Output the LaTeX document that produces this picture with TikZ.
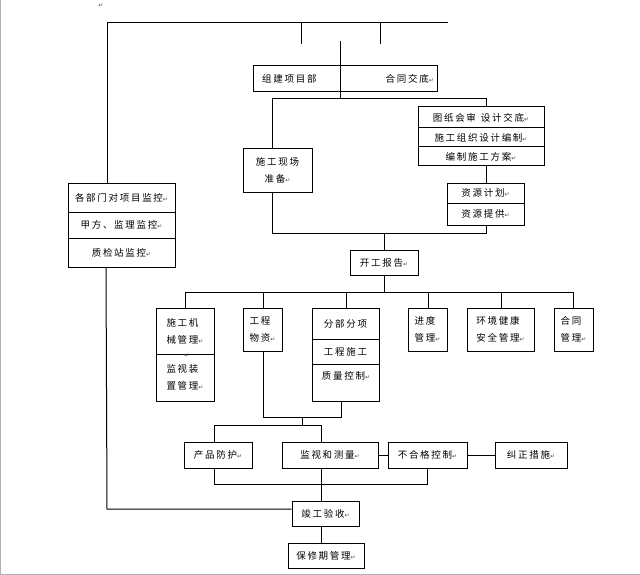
\documentclass[tikz,border=0pt]{standalone}
\usepackage{fontspec}
\newfontfamily\cjk[LetterSpace=18]{Noto Sans CJK SC}
\newfontfamily\symf{DejaVu Sans}
\newcommand\retm{{\fontsize{6}{6}\selectfont\symf\textcolor{black!70}{↵}}}
\begin{document}
\begin{tikzpicture}[x=1pt,y=-1pt,
  box/.style={draw=black,line width=1pt,rectangle,inner sep=0pt,
    font=\cjk\fontsize{9.5}{17}\selectfont,align=left},
  txt/.style={inner sep=0pt,font=\cjk\fontsize{9.5}{17}\selectfont,align=left},
  ln/.style={line width=1pt,black}]
\useasboundingbox (0,0) rectangle (640,575);
\fill[white] (0,0) rectangle (640,575);
\draw[gray!60,line width=1.2pt] (0.6,0) -- (0.6,574.4) -- (640,574.4);
\node[inner sep=0pt] (m0) at (101,6) {\retm};
% boxes
\node[box,minimum width=184,minimum height=26] (zj) at (345,79) {};
\node[txt,anchor=west] (zjl) at (262,79) {组建项目部};
\node[txt,anchor=east] (zjr) at (434,79) {合同交底\retm};
\node[box,minimum width=126,minimum height=21] (tz1) at (481,117.5) {图纸会审\hspace{5pt}设计交底\retm};
\node[box,minimum width=126,minimum height=19] (tz2) at (481,137.5) {施工组织设计编制\retm};
\node[box,minimum width=126,minimum height=19] (tz3) at (481,156.5) {编制施工方案\retm};
\node[box,minimum width=77,minimum height=20] (zy1) at (485.5,193) {资源计划\retm};
\node[box,minimum width=77,minimum height=22] (zy2) at (485.5,214) {资源提供\retm};
\node[box,minimum width=69,minimum height=43,align=center] (sg) at (277.5,170.5) {施工现场\\准备\retm};
\node[box,minimum width=107,minimum height=29] (jk1) at (121.5,197.5) {各部门对项目监控\retm};
\node[box,minimum width=107,minimum height=26] (jk2) at (121.5,225) {甲方、监理监控\retm};
\node[box,minimum width=107,minimum height=29] (jk3) at (121.5,252.5) {质检站监控\retm};
\node[box,minimum width=68,minimum height=25] (kg) at (384,262.5) {开工报告\retm};
\node[box,minimum width=58,minimum height=46] (jx1) at (185,331) {施工机\\械管理\retm};
\node[box,minimum width=58,minimum height=47] (jx2) at (185,377.5) {监视装\\置管理\retm};
\node[inner sep=0pt] (m1) at (187,355.5) {\retm};
\node[box,minimum width=39,minimum height=43] (wz) at (262.5,329.5) {工程\\物资\retm};
\node[box,minimum width=67,minimum height=31] (fb1) at (345.5,323.5) {分部分项};
\node[box,minimum width=67,minimum height=25] (fb2) at (345.5,351.5) {工程施工};
\node[box,minimum width=67,minimum height=37] (fb3) at (345.5,382.5) {};
\node[txt] (fb3t) at (346,376) {质量控制\retm};
\node[box,minimum width=39,minimum height=43] (jd) at (427.5,329.5) {进度\\管理\retm};
\node[box,minimum width=67,minimum height=43] (hj) at (500.5,329.5) {环境健康\\安全管理\retm};
\node[box,minimum width=39,minimum height=43] (ht) at (573.5,329.5) {合同\\管理\retm};
\node[box,minimum width=68,minimum height=26] (cp) at (218,455) {产品防护\retm};
\node[box,minimum width=96,minimum height=26] (jc) at (330,455) {监视和测量\retm};
\node[box,minimum width=79,minimum height=26] (bh) at (427.5,455) {不合格控制\retm};
\node[box,minimum width=72,minimum height=26] (jz) at (531,455) {纠正措施\retm};
\node[box,minimum width=67,minimum height=25] (jg) at (325.5,513.5) {竣工验收\retm};
\node[box,minimum width=76,minimum height=25] (bx) at (326,555.5) {保修期管理\retm};
% coordinates
\coordinate (tl) at (107,23);
\coordinate (tr) at (448,23);
\coordinate (t1) at (301,23);
\coordinate (t1b) at (301,44);
\coordinate (t2) at (380,23);
\coordinate (t2b) at (380,44);
\coordinate (ct) at (340,41);
\coordinate (cb) at (340,99);
\coordinate (hl) at (272,99);
\coordinate (hr) at (486,99);
\coordinate (ml) at (272,233);
\coordinate (mr) at (486,233);
\coordinate (mk) at (384,233);
\coordinate (rl) at (185,292);
\coordinate (rr) at (573,292);
\coordinate (rk) at (384,292);
\coordinate (wl) at (263,417);
\coordinate (wr) at (341,417);
\coordinate (wm) at (302,417);
\coordinate (pl) at (214,425);
\coordinate (pr) at (321,425);
\coordinate (pm) at (302,425);
\coordinate (ql) at (214,484);
\coordinate (qr) at (427,484);
\coordinate (lb) at (107,509);
% connectors
\draw[ln] (tl) -- (tr);
\draw[ln] (tl) -- (tl |- jk1.north);
\draw[ln] (t1) -- (t1b);
\draw[ln] (t2) -- (t2b);
\draw[ln] (ct) -- (cb);
\draw[ln] (hl) -- (hr) -- (hr |- tz1.north);
\draw[ln] (hl) -- (hl |- sg.north);
\draw[ln] (hr |- tz3.south) -- (hr |- zy1.north);
\draw[ln] (ml |- sg.south) -- (ml) -- (mr) -- (mr |- zy2.south);
\draw[ln] (mk) -- (mk |- kg.north);
\draw[ln] (rk |- kg.south) -- (rk);
\draw[ln] (rl) -- (rr);
\draw[ln] (rl) -- (rl |- jx1.north);
\draw[ln] (263,292) -- (263,292 |- wz.north);
\draw[ln] (346,292) -- (346,292 |- fb1.north);
\draw[ln] (428,292) -- (428,292 |- jd.north);
\draw[ln] (501,292) -- (501,292 |- hj.north);
\draw[ln] (rr) -- (rr |- ht.north);
\draw[ln] (wl |- wz.south) -- (wl) -- (wr) -- (wr |- fb3.south);
\draw[ln] (wm) -- (pm);
\draw[ln] (pl) -- (pr);
\draw[ln] (pl) -- (pl |- cp.north);
\draw[ln] (pr) -- (pr |- jc.north);
\draw[ln] (jc.east) -- (bh.west);
\draw[ln] (bh.east) -- (jz.west);
\draw[ln] (ql |- cp.south) -- (ql) -- (qr) -- (qr |- bh.south);
\draw[ln] (pr |- jc.south) -- (pr |- jg.north);
\draw[ln] (106,0 |- jk3.south) -- (lb) -- (lb -| jg.west);
\draw[ln] (pr |- jg.south) -- (pr |- bx.north);
\end{tikzpicture}
\end{document}
